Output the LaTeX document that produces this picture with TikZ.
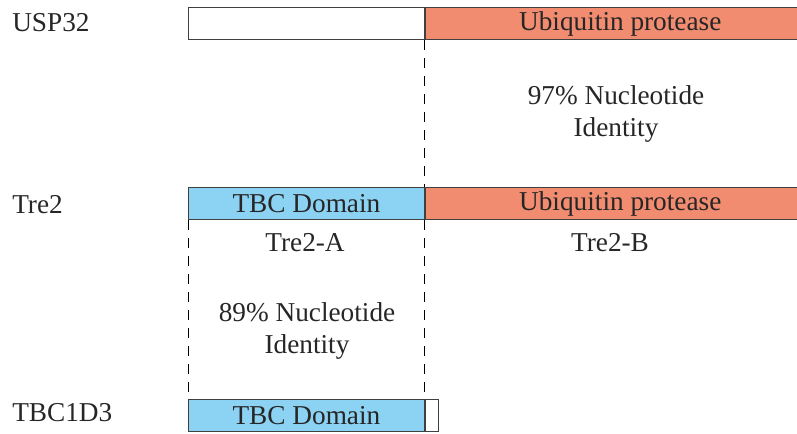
\documentclass[tikz,border=0pt]{standalone}
\usepackage{fontspec}
\setmainfont{Liberation Serif}
\usetikzlibrary{positioning}
\definecolor{ubq}{RGB}{242,140,112}
\definecolor{tbc}{RGB}{140,210,242}
\tikzset{
	seg/.style={draw=black!75,line width=0.6pt,minimum height=0.8cm,inner sep=0pt,anchor=south west},
	gene/.style={anchor=west,inner sep=0pt},
	note/.style={align=center,inner sep=0pt},
	guide/.style={line width=0.6pt,dash pattern=on 0.25cm off 0.2cm}
}
\begin{document}
\begin{tikzpicture}[x=1cm,y=1cm,font=\fontsize{19.4}{22.7}\selectfont,text=black!85]
	\useasboundingbox (0,0) rectangle (19.925,10.825);
	% USP32
	\node[seg,minimum width=5.9cm] (uspL) at (4.7,9.825) {};
	\node[seg,fill=ubq,minimum width=9.3cm] (uspR) at (uspL.south east) {\hspace*{0.45cm}Ubiquitin protease};
	% Tre2
	\node[seg,fill=tbc,minimum width=5.9cm] (treA) at (4.7,5.325) {TBC Domain};
	\node[seg,fill=ubq,minimum width=9.3cm] (treB) at (treA.south east) {\hspace*{0.45cm}Ubiquitin protease};
	% TBC1D3
	\node[seg,fill=tbc,minimum width=5.9cm] (tbcA) at (4.7,0.025) {TBC Domain};
	\node[seg,minimum width=0.325cm] (tbcB) at (tbcA.south east) {};
	% names
	\node[gene] (nUSP) at (0.3,10.25) {USP32};
	\node[gene] (nTre) at (0.3,5.7) {Tre2};
	\node[gene] (nTBC) at (0.3,0.5) {TBC1D3};
	% dashed guides
	\draw[guide] (uspL.south east) -- (treA.north east);
	\draw[guide] (treA.south west) -- (tbcA.north west);
	\draw[guide] (treA.south east) -- (tbcA.north east);
	% texts
	\node[note] (idB) at (15.4,7.975) {97\% Nucleotide\\Identity};
	\node[note] (tA) at (7.625,4.75) {Tre2-A};
	\node[note] (tB) at (15.25,4.75) {Tre2-B};
	\node[note] (idA) at (7.675,2.55) {89\% Nucleotide\\Identity};
\end{tikzpicture}
\end{document}
